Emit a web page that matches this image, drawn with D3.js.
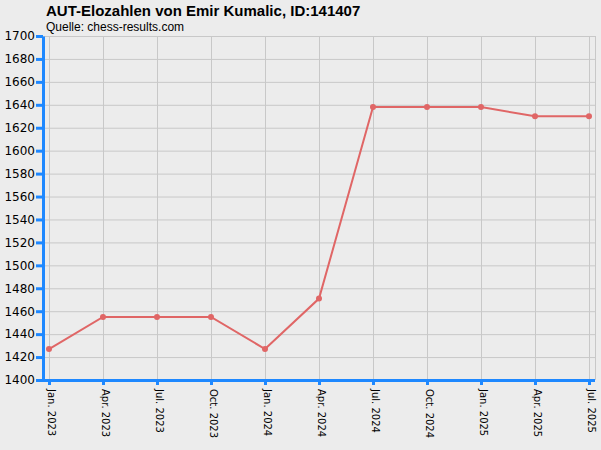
<!DOCTYPE html>
<html><head><meta charset="utf-8">
<script src="https://cdn.jsdelivr.net/npm/d3@7"></script>
<style>body{margin:0;background:#ececec}</style>
</head><body>
<svg id="chart" width="601" height="450"></svg>
<script>
var dates = ["Jan. 2023","Apr. 2023","Jul. 2023","Oct. 2023","Jan. 2024","Apr. 2024","Jul. 2024","Oct. 2024","Jan. 2025","Apr. 2025","Jul. 2025"];
var elo = [1427,1455,1455,1455,1427,1471,1638,1638,1638,1630,1630];
var yTicks = d3.range(1400, 1701, 20);

var svg = d3.select("#chart");
svg.append("rect").attr("width",601).attr("height",450).attr("fill","#ececec");

var plotLeft = 43, plotRight = 595, plotTop = 36, plotBottom = 380;
var x = d3.scalePoint().domain(dates).range([49, 589]);
var y = d3.scaleLinear().domain([1400,1700]).range([plotBottom, plotTop]);

// grid
svg.append("g").selectAll("line").data(yTicks).enter().append("line")
  .attr("x1",plotLeft).attr("x2",plotRight).attr("y1",function(d){return y(d)+0.5;}).attr("y2",function(d){return y(d)+0.5;})
  .attr("stroke","#c8c8c8");
svg.append("g").selectAll("line").data(dates).enter().append("line")
  .attr("x1",function(d){return x(d)+0.5;}).attr("x2",function(d){return x(d)+0.5;})
  .attr("y1",plotTop).attr("y2",plotBottom).attr("stroke","#c8c8c8");
svg.append("line").attr("x1",plotRight+0.5).attr("x2",plotRight+0.5).attr("y1",plotTop).attr("y2",plotBottom).attr("stroke","#c8c8c8");

// line
var line = d3.line().x(function(d,i){return x(dates[i]);}).y(function(d){return y(d);});
svg.append("path").datum(elo).attr("d",line).attr("fill","none").attr("stroke","#e06666").attr("stroke-width",2);
svg.append("g").selectAll("circle").data(elo).enter().append("circle")
  .attr("cx",function(d,i){return x(dates[i]);}).attr("cy",function(d){return y(d);}).attr("r",3).attr("fill","#e06666");

// axes
var yAxis = svg.append("g").attr("transform","translate("+plotLeft+",0)")
  .call(d3.axisLeft(y).tickValues(yTicks).tickSize(7).tickSizeOuter(0).tickFormat(d3.format("d")));
var xAxis = svg.append("g").attr("transform","translate(0,"+plotBottom+")")
  .call(d3.axisBottom(x).tickSize(5).tickSizeOuter(0));
xAxis.select(".domain").attr("d","M"+plotLeft+",0.5H"+plotRight);
[yAxis,xAxis].forEach(function(a){
  a.selectAll(".domain,line").attr("stroke","#1e88ff").attr("stroke-width",3);
  a.selectAll("text").attr("fill","#000").attr("font-family","DejaVu Sans, sans-serif");
});
yAxis.selectAll("text").attr("font-size",12).attr("x",-8);
xAxis.selectAll("text").attr("font-size",10).attr("transform","rotate(90)")
  .attr("text-anchor","start").attr("x",9).attr("y",-2).attr("dy","0.32em");

svg.append("text").attr("x",46).attr("y",16).attr("font-family","Liberation Sans, Arial, sans-serif")
  .attr("font-size",15).attr("font-weight","bold").text("AUT-Elozahlen von Emir Kumalic, ID:141407");
svg.append("text").attr("x",46).attr("y",31).attr("font-family","Liberation Sans, Arial, sans-serif")
  .attr("font-size",12).text("Quelle: chess-results.com");
</script>
</body></html>
